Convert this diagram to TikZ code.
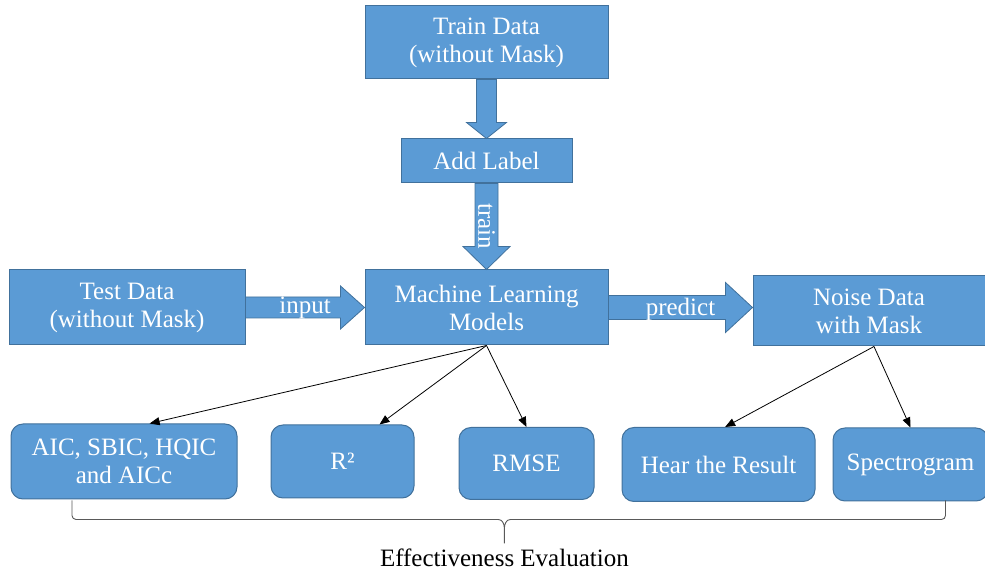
\documentclass[tikz,border=0pt]{standalone}
\usepackage{fontspec}
\setmainfont{Liberation Serif}
\usepackage{tikz}
\usetikzlibrary{arrows.meta, positioning, calc}
\definecolor{flBlue}{HTML}{5B9BD5}
\definecolor{flEdge}{HTML}{41719C}
\tikzset{
  fl-box/.style={
    rectangle, draw=flEdge, fill=flBlue, line width=1pt, text=white,
    align=center, inner sep=2pt, font=\fontsize{25}{28}\selectfont
  },
  fl-metric/.style={fl-box, rounded corners=12pt},
  fl-fat/.style={draw=flEdge, fill=flBlue, line width=0.8pt},
  fl-tag/.style={text=white, inner sep=0pt, font=\fontsize{25}{28}\selectfont},
  fl-note/.style={text=black, inner sep=0pt, font=\fontsize{25}{28}\selectfont},
  fl-link/.style={-{Triangle[length=10pt,width=8pt]}, line width=0.8pt, draw=black},
  fl-bracket/.style={line width=0.9pt, draw=black!65},
}
% block arrows: from, to, half shaft, half head, head length
\newcommand{\fatdown}[5]{%
  \draw[fl-fat] let \p1=(#1), \p2=(#2) in
    (\x1-#3,\y1) -- (\x1-#3,\y2+#5) -- (\x1-#4,\y2+#5) -- (\x1,\y2)
    -- (\x1+#4,\y2+#5) -- (\x1+#3,\y2+#5) -- (\x1+#3,\y1) -- cycle;}
\newcommand{\fatright}[5]{%
  \draw[fl-fat] let \p1=(#1), \p2=(#2) in
    (\x1,\y1+#3) -- (\x2-#5,\y1+#3) -- (\x2-#5,\y1+#4) -- (\x2,\y1)
    -- (\x2-#5,\y1-#4) -- (\x2-#5,\y1-#3) -- (\x1,\y1-#3) -- cycle;}

\begin{document}
\begin{tikzpicture}[x=1pt, y=1pt]
  \useasboundingbox (0,0) rectangle (985,570);

  % main flow
  \node[fl-box, minimum width=243pt, minimum height=75pt]
                                                (ml) at (486.5,262.5) {Machine Learning\\Models};
  \node[fl-box, above=86pt of ml, minimum width=171pt, minimum height=44pt]
                                                (lbl) {Add Label};
  \node[fl-box, above=59pt of lbl, minimum width=243pt, minimum height=73pt]
                                                (train) {Train Data\\(without Mask)};
  \node[fl-box, left=119pt of ml, minimum width=236pt, minimum height=75pt]
                                                (test) {Test Data\\(without Mask)};
  \node[fl-box, right=144pt of ml, yshift=-3.5pt, minimum width=232pt, minimum height=70pt]
                                                (noise) {Noise Data\\with Mask};

  % evaluation row
  \node[fl-metric, minimum width=226pt, minimum height=75pt]
                                                (aic) at (124,108.5) {AIC, SBIC, HQIC\\and AICc};
  \node[fl-metric, right=33pt of aic, minimum width=143pt, minimum height=73pt]
                                                (r2) {R²};
  \node[fl-metric, right=44pt of r2, yshift=-2pt, minimum width=135pt, minimum height=72pt]
                                                (rmse) {RMSE};
  \node[fl-metric, right=27pt of rmse, yshift=-1pt, minimum width=193pt, minimum height=74pt]
                                                (hear) {Hear the Result};
  \node[fl-metric, right=17pt of hear, minimum width=155pt, minimum height=73pt]
                                                (spec) {Spectrogram};

  \fatdown{train.south}{lbl.north}{10pt}{20pt}{16pt}
  \fatdown{lbl.south}{ml.north}{11.5pt}{23.5pt}{23pt}
  \fatright{test.east}{ml.west}{10.5pt}{21.5pt}{24pt}
  \fatright{ml.east}{noise.west}{12pt}{25pt}{27pt}

  \node[fl-tag, rotate=-90] (tTrain) at ($(lbl.south)!0.5!(ml.north)$) {train};
  \node[fl-tag] (tInput) at ($(test.east)!0.5!(ml.west)$) {input};
  \node[fl-tag] (tPredict) at ($(ml.east)!0.5!(noise.west)$) {predict};

  \draw[fl-link] (ml.south) -- (aic.56);
  \draw[fl-link] (ml.south) -- (r2.45);
  \draw[fl-link] (ml.south) -- (rmse.north);
  \draw[fl-link] (noise.-82) -- (hear.80);
  \draw[fl-link] (noise.-82) -- (spec.north);

  % brace under the evaluation row
  \coordinate (bL) at ($(aic.south)+(-52pt,-1pt)$);
  \coordinate (bR) at ($(aic.south -| spec.south)+(35pt,-1pt)$);
  \coordinate (bM) at ($(bL)!0.495!(bR)$);
  \draw[fl-bracket] (bL) -- ++(0,-15) to[out=-90,in=180] ++(4,-4)
    -- ($(bM)+(-6,-19)$) to[out=0,in=90] ($(bM)+(0,-28)$) -- ($(bM)+(0,-43)$)
    -- ($(bM)+(0,-28)$) to[out=90,in=180] ($(bM)+(6,-19)$)
    -- ($(bR)+(-4,-19)$) to[out=0,in=-90] ($(bR)+(0,-15)$) -- (bR);
  \node[fl-note, anchor=base, text depth=0pt] (eval) at ($(bM)+(0,-66)$) {Effectiveness Evaluation};
\end{tikzpicture}
\end{document}
